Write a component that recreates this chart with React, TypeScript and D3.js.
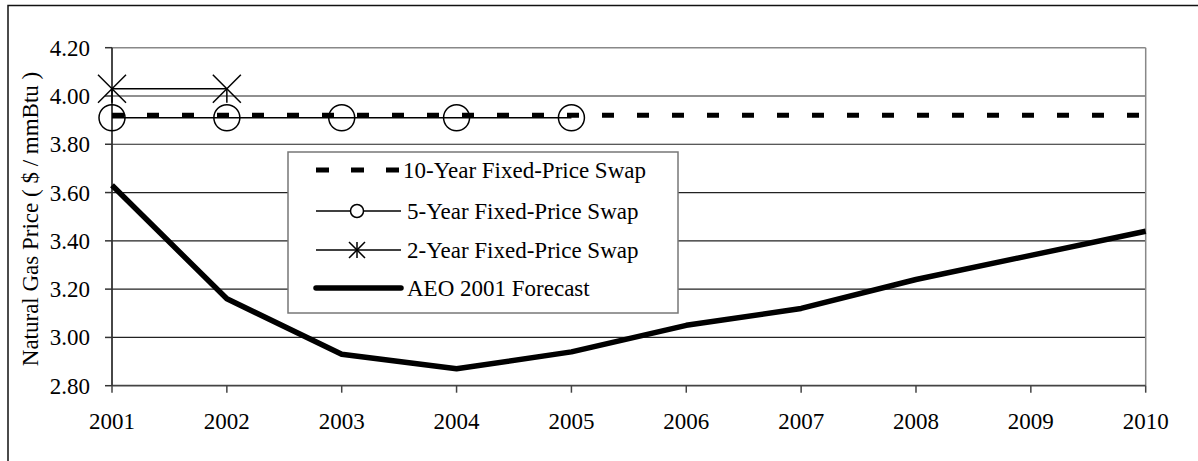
import * as d3 from 'd3';

const years = [2001, 2002, 2003, 2004, 2005, 2006, 2007, 2008, 2009, 2010];
const tenYearSwap = [3.92, 3.92, 3.92, 3.92, 3.92, 3.92, 3.92, 3.92, 3.92, 3.92];
const fiveYearSwap = [3.91, 3.91, 3.91, 3.91, 3.91];
const twoYearSwap = [4.03, 4.03];
const aeoForecast = [3.63, 3.16, 2.93, 2.87, 2.94, 3.05, 3.12, 3.24, 3.34, 3.44];
const yTicks = [2.8, 3.0, 3.2, 3.4, 3.6, 3.8, 4.0, 4.2];
const legendLabels = [
    '10-Year Fixed-Price Swap',
    '5-Year Fixed-Price Swap',
    '2-Year Fixed-Price Swap',
    'AEO 2001 Forecast',
];

const FONT = '"Liberation Serif", "Times New Roman", serif';

function Star({ cx, cy, r, full }: { cx: number; cy: number; r: number; full?: boolean }) {
    return (
        <g stroke="#000" strokeWidth={1.5}>
            <line x1={cx - r} y1={cy - r} x2={cx + r} y2={cy + r} />
            <line x1={cx - r} y1={cy + r} x2={cx + r} y2={cy - r} />
            <line x1={cx} y1={full ? cy - r : cy} x2={cx} y2={cy + r} />
        </g>
    );
}

export default function App() {
    const W = 1198, H = 461;
    const left = 112, right = 1145.7, top = 47.7, bottom = 385.7;

    const x = d3.scalePoint<number>().domain(years).range([left, right]);
    const y = d3.scaleLinear().domain([2.8, 4.2]).range([bottom, top]);

    const line = d3.line<number>()
        .x((_, i) => x(years[i])!)
        .y(d => y(d));

    // legend geometry
    const lg = { x: 288, y: 152, w: 390, h: 161 };
    const rowY = [170, 211, 250, 288];
    const sx1 = 316, sx2 = 401, smid = 357, tx = 404;

    return (
        <>
            <style>{'body{margin:0}'}</style>
            <svg width={W} height={H} style={{ display: 'block', fontFamily: FONT }}>
                <rect x={0} y={0} width={W} height={H} fill="#fff" />
                <rect x={8} y={5.5} width={1210} height={470} fill="none" stroke="#111" strokeWidth={1.5} />

                {/* gridlines */}
                {yTicks.slice(1, -1).map(t => (
                    <line key={t} x1={left} x2={right} y1={y(t)} y2={y(t)} stroke="#222" strokeWidth={1.2} />
                ))}
                {/* plot frame */}
                <line x1={left} x2={right} y1={top} y2={top} stroke="#888" strokeWidth={1.5} />
                <line x1={right} x2={right} y1={top} y2={bottom} stroke="#888" strokeWidth={1.5} />
                <line x1={left} x2={right} y1={bottom} y2={bottom} stroke="#444" strokeWidth={1.8} />
                <line x1={left} x2={left} y1={top} y2={bottom} stroke="#333" strokeWidth={1.8} />

                {/* y ticks */}
                {yTicks.map(t => (
                    <g key={t}>
                        <line x1={left - 7} x2={left} y1={y(t)} y2={y(t)} stroke="#333" strokeWidth={1.5} />
                        <text x={90} y={y(t) + 8} fontSize={23} textAnchor="end" fill="#000">{t.toFixed(2)}</text>
                    </g>
                ))}
                {/* x ticks */}
                {years.map(yr => (
                    <g key={yr}>
                        <line x1={x(yr)} x2={x(yr)} y1={bottom} y2={bottom + 7} stroke="#444" strokeWidth={1.5} />
                        <text x={x(yr)} y={429} fontSize={23} textAnchor="middle" fill="#000">{yr}</text>
                    </g>
                ))}

                <text transform={`translate(38,219) rotate(-90)`} fontSize={23} textAnchor="middle" fill="#000">
                    Natural Gas Price ( $ / mmBtu )
                </text>

                {/* series */}
                <path d={line(aeoForecast)!} fill="none" stroke="#000" strokeWidth={5.5} strokeLinejoin="round" />
                <path d={line(tenYearSwap)!} fill="none" stroke="#000" strokeWidth={5} strokeDasharray="12,23" />
                <path d={line(fiveYearSwap)!} fill="none" stroke="#000" strokeWidth={1.5} />
                {fiveYearSwap.map((v, i) => (
                    <circle key={i} cx={x(years[i])} cy={y(v)} r={13} fill="none" stroke="#000" strokeWidth={1.5} />
                ))}
                <path d={line(twoYearSwap)!} fill="none" stroke="#000" strokeWidth={1.5} />
                {twoYearSwap.map((v, i) => (
                    <Star key={i} cx={x(years[i])!} cy={y(v)} r={14} />
                ))}

                {/* legend */}
                <rect x={lg.x} y={lg.y} width={lg.w} height={lg.h} fill="#fff" stroke="#777" strokeWidth={1.5} />
                <line x1={sx1} x2={sx2} y1={rowY[0]} y2={rowY[0]} stroke="#000" strokeWidth={5} strokeDasharray="13,22" />
                <line x1={sx1} x2={sx2} y1={rowY[1]} y2={rowY[1]} stroke="#000" strokeWidth={1.5} />
                <circle cx={smid} cy={rowY[1]} r={6.5} fill="#fff" stroke="#000" strokeWidth={1.5} />
                <line x1={sx1} x2={sx2} y1={rowY[2]} y2={rowY[2]} stroke="#000" strokeWidth={1.5} />
                <Star cx={smid} cy={rowY[2]} r={8} full />
                <line x1={sx1} x2={sx2} y1={rowY[3]} y2={rowY[3]} stroke="#000" strokeWidth={5.5} strokeLinecap="round" />
                {legendLabels.map((l, i) => (
                    <text key={l} x={tx + (i === 0 ? -1 : 3)} y={rowY[i] + 8} fontSize={23} fill="#000">{l}</text>
                ))}
            </svg>
        </>
    );
}
